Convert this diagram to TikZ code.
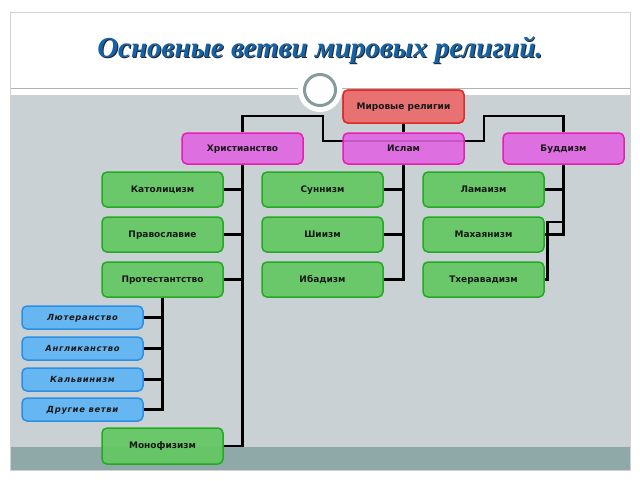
\documentclass[tikz,border=0pt]{standalone}
\usepackage{fontspec}
\setmainfont{DejaVu Sans}
\newfontfamily\titlefont{Liberation Serif}
\newfontfamily\bluefont[LetterSpace=8]{DejaVu Sans}
\definecolor{bgray}{HTML}{C9D1D5}
\definecolor{band}{HTML}{8FA8A8}
\definecolor{redf}{HTML}{E87272}
\definecolor{redd}{HTML}{E02A2A}
\definecolor{magf}{HTML}{E262E2}
\definecolor{magd}{HTML}{E81EB4}
\definecolor{grnf}{HTML}{62C862}
\definecolor{grnd}{HTML}{22AA22}
\definecolor{bluf}{HTML}{66B6F2}
\definecolor{blud}{HTML}{2A90E6}
\definecolor{titleblue}{HTML}{1462A8}
\definecolor{ringgray}{HTML}{869C9A}
\tikzset{
  box/.style={rounded corners=5pt, line width=1.5pt, minimum width=121pt, inner sep=0pt,
    text height=6.8pt, text depth=1.2pt,
    font=\fontsize{9}{10}\selectfont\bfseries, text=black!90},
  redbox/.style={box, draw=redd, fill=redf, minimum height=33pt},
  magbox/.style={box, draw=magd, fill=magf, fill opacity=0.88, text opacity=1, minimum height=31pt},
  grnbox/.style={box, draw=grnd, fill=grnf, fill opacity=0.92, text opacity=1, minimum height=35pt},
  blubox/.style={box, draw=blud, fill=bluf, minimum height=23pt,
    font=\bluefont\fontsize{8.4}{9}\selectfont\bfseries\itshape},
  conn/.style={line width=2.6pt, black},
}
\begin{document}
\begin{tikzpicture}[x=1pt,y=-1pt]
\useasboundingbox (0,0) rectangle (640,480);
\fill[white] (0,0) rectangle (640,480);
% slide
\draw[draw=black!18, fill=white, line width=0.8pt] (10,12) rectangle (630,470);
\fill[bgray] (10.5,95) rectangle (629.5,447);
\fill[band] (10.5,447) rectangle (629.5,469.5);
\draw[black!30, line width=0.8pt] (10.5,88) -- (629.5,88);
% title
\node[font=\titlefont\fontsize{29}{32}\selectfont\bfseries\itshape, text=black!85] at (321,51.5)
  {Основные ветви мировых религий.};
\node[font=\titlefont\fontsize{29}{32}\selectfont\bfseries\itshape, text=titleblue] (title) at (320,50.5)
  {Основные ветви мировых религий.};
% ring
\fill[white] (320,90) circle (22);
\draw[ringgray, line width=3pt, fill=white] (320,90) circle (15.5) node (ring) {};

% junction coordinates
\coordinate (jI) at (403.5,141);
\coordinate (jL) at (323,141);
\coordinate (jR) at (484,141);
\coordinate (hL) at (323,116);
\coordinate (hR) at (484,116);

% placeholders for connector anchors
\node[redbox] (top) at (403.5,106.5) {Мировые религии};
\node[magbox, draw=none, fill=none] (xr) at (242.5,148.5) {};
\node[magbox, draw=none, fill=none] (isl) at (403.5,148.5) {};
\node[magbox, draw=none, fill=none] (bud) at (563.5,148.5) {};
\node[grnbox, draw=none, fill=none] (kat) at (162.5,189.5) {};
\node[grnbox, draw=none, fill=none] (prav) at (162.5,234.5) {};
\node[grnbox, draw=none, fill=none] (prot) at (162.5,279.5) {};
\node[grnbox, draw=none, fill=none] (sun) at (322.5,189.5) {};
\node[grnbox, draw=none, fill=none] (shi) at (322.5,234.5) {};
\node[grnbox, draw=none, fill=none] (iba) at (322.5,279.5) {};
\node[grnbox, draw=none, fill=none] (lam) at (483.5,189.5) {};
\node[grnbox, draw=none, fill=none] (mah) at (483.5,234.5) {};
\node[grnbox, draw=none, fill=none] (the) at (483.5,279.5) {};
\node[blubox, draw=none, fill=none] (lut) at (82.5,317.5) {};
\node[blubox, draw=none, fill=none] (ang) at (82.5,348.5) {};
\node[blubox, draw=none, fill=none] (kal) at (82.5,379.5) {};
\node[blubox, draw=none, fill=none] (dru) at (82.5,409.5) {};
\node[grnbox, draw=none, fill=none, minimum height=36pt] (mono) at (162.5,446) {};

\draw[conn] (top.south) -- (isl.north);
\draw[conn] (jI) -- (jL) -- (hL) -- (xr.north |- hL) -- (xr.north);
\draw[conn] (jI) -- (jR) -- (hR) -- (bud.north |- hR) -- (bud.north);
% Christianity trunk
\draw[conn] (xr.south) -- (xr.south |- mono.east) -- (mono.east);
\draw[conn] (kat.east) -- (kat.east -| xr.south);
\draw[conn] (prav.east) -- (prav.east -| xr.south);
\draw[conn] (prot.east) -- (prot.east -| xr.south);
% Islam trunk
\draw[conn] (isl.south) -- (isl.south |- iba.east) -- (iba.east);
\draw[conn] (sun.east) -- (sun.east -| isl.south);
\draw[conn] (shi.east) -- (shi.east -| isl.south);
% Buddhism trunk
\draw[conn] (bud.south) -- (bud.south |- mah.east) -- (mah.east);
\draw[conn] (lam.east) -- (lam.east -| bud.south);
\coordinate (tk) at (546,222);
\draw[conn] (the.east) -- ++(2.5,0) |- (tk) -- (tk -| bud.south);
% Protestant branches
\draw[conn] (prot.south) -- (prot.south |- dru.east) -- (dru.east);
\draw[conn] (lut.east) -- (lut.east -| prot.south);
\draw[conn] (ang.east) -- (ang.east -| prot.south);
\draw[conn] (kal.east) -- (kal.east -| prot.south);

% boxes on top
\node[redbox] at (top) {Мировые религии};
\node[magbox] at (xr) {Христианство};
\node[magbox] at (isl) {Ислам};
\node[magbox] at (bud) {Буддизм};
\node[grnbox] at (kat) {Католицизм};
\node[grnbox] at (prav) {Православие};
\node[grnbox] at (prot) {Протестантство};
\node[grnbox] at (sun) {Суннизм};
\node[grnbox] at (shi) {Шиизм};
\node[grnbox] at (iba) {Ибадизм};
\node[grnbox] at (lam) {Ламаизм};
\node[grnbox] at (mah) {Махаянизм};
\node[grnbox] at (the) {Тхеравадизм};
\node[blubox] at (lut) {Лютеранство};
\node[blubox] at (ang) {Англиканство};
\node[blubox] at (kal) {Кальвинизм};
\node[blubox] at (dru) {Другие ветви};
\node[grnbox, minimum height=36pt] at (mono) {Монофизизм};
\end{tikzpicture}
\end{document}
